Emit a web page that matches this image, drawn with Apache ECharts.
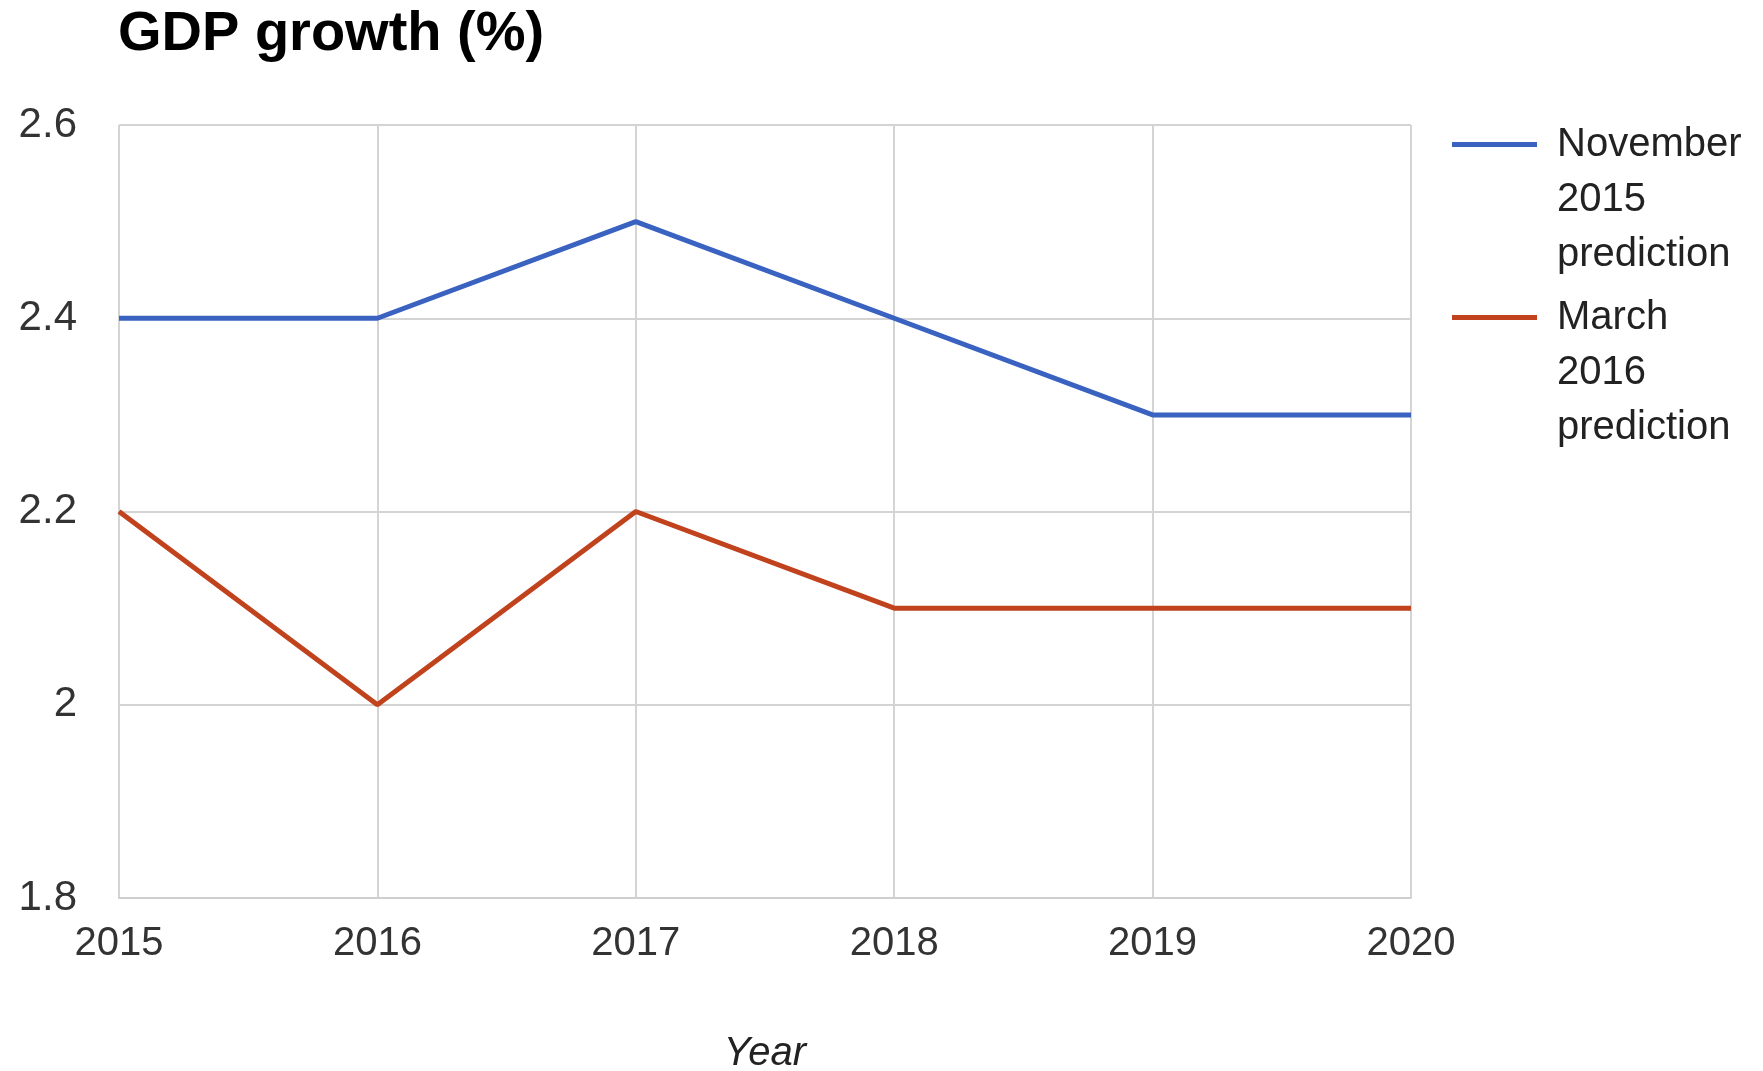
<!DOCTYPE html>
<html>
<head>
<meta charset="utf-8">
<script src="https://cdn.jsdelivr.net/npm/echarts@6/dist/echarts.min.js"></script>
<style>
html,body{margin:0;padding:0;background:#fff;}
#chart{width:1763px;height:1071px;}
</style>
</head>
<body>
<div id="chart"></div>
<script>
const years = ['2015', '2016', '2017', '2018', '2019', '2020'];
const nov2015 = [2.4, 2.4, 2.5, 2.4, 2.3, 2.3];
const mar2016 = [2.2, 2.0, 2.2, 2.1, 2.1, 2.1];
const seriesNames = ['November\n2015\nprediction', 'March\n2016\nprediction'];
const yTicks = { min: 1.8, max: 2.6, interval: 0.2 };

const FONT = '"Liberation Sans", Arial, sans-serif';
const chart = echarts.init(document.getElementById('chart'), null, { renderer: 'canvas' });
const legendIcon = 'path://M0,25H85V30H0Z M0,0H0.05V0.05H0Z M99.95,164.95H100V165H99.95Z';

chart.setOption({
  animation: false,
  backgroundColor: '#ffffff',
  title: {
    text: 'GDP growth (%)',
    left: 113,
    top: 2,
    textStyle: { fontFamily: FONT, fontSize: 56, fontWeight: 'bold', color: '#000' }
  },
  grid: { left: 119, right: 352, top: 125, bottom: 173, containLabel: false, outerBoundsMode: 'none' },
  legend: {
    orient: 'vertical',
    left: 1452,
    top: 117,
    padding: 0,
    itemGap: 8,
    itemWidth: 100,
    itemHeight: 165,
    icon: legendIcon,
    itemStyle: { borderWidth: 0 },
    textStyle: { fontFamily: FONT, fontSize: 40, lineHeight: 55, color: '#222' },
    data: seriesNames
  },
  xAxis: {
    type: 'category',
    data: years,
    boundaryGap: false,
    name: 'Year',
    nameLocation: 'middle',
    nameGap: 136,
    nameTextStyle: { fontFamily: FONT, fontSize: 40, fontStyle: 'italic', color: '#222' },
    axisLine: { show: true, lineStyle: { color: '#cfcfcf', width: 2 } },
    axisTick: { show: false },
    axisLabel: { fontFamily: FONT, fontSize: 40, color: '#333', margin: 26 },
    splitLine: { show: true, lineStyle: { color: '#d4d4d4', width: 2 } }
  },
  yAxis: {
    type: 'value',
    min: yTicks.min,
    max: yTicks.max,
    interval: yTicks.interval,
    axisLine: { show: false },
    axisTick: { show: false },
    axisLabel: { fontFamily: FONT, fontSize: 42, color: '#333', margin: 42 },
    splitLine: { show: true, lineStyle: { color: '#d4d4d4', width: 2 } }
  },
  series: [
    {
      name: seriesNames[0],
      type: 'line',
      data: nov2015,
      showSymbol: false,
      symbol: 'none',
      color: '#3a62c0',
      lineStyle: { color: '#3a62c0', width: 5 }
    },
    {
      name: seriesNames[1],
      type: 'line',
      data: mar2016,
      showSymbol: false,
      symbol: 'none',
      color: '#c0431e',
      lineStyle: { color: '#c0431e', width: 5 }
    }
  ]
});
</script>
</body>
</html>
